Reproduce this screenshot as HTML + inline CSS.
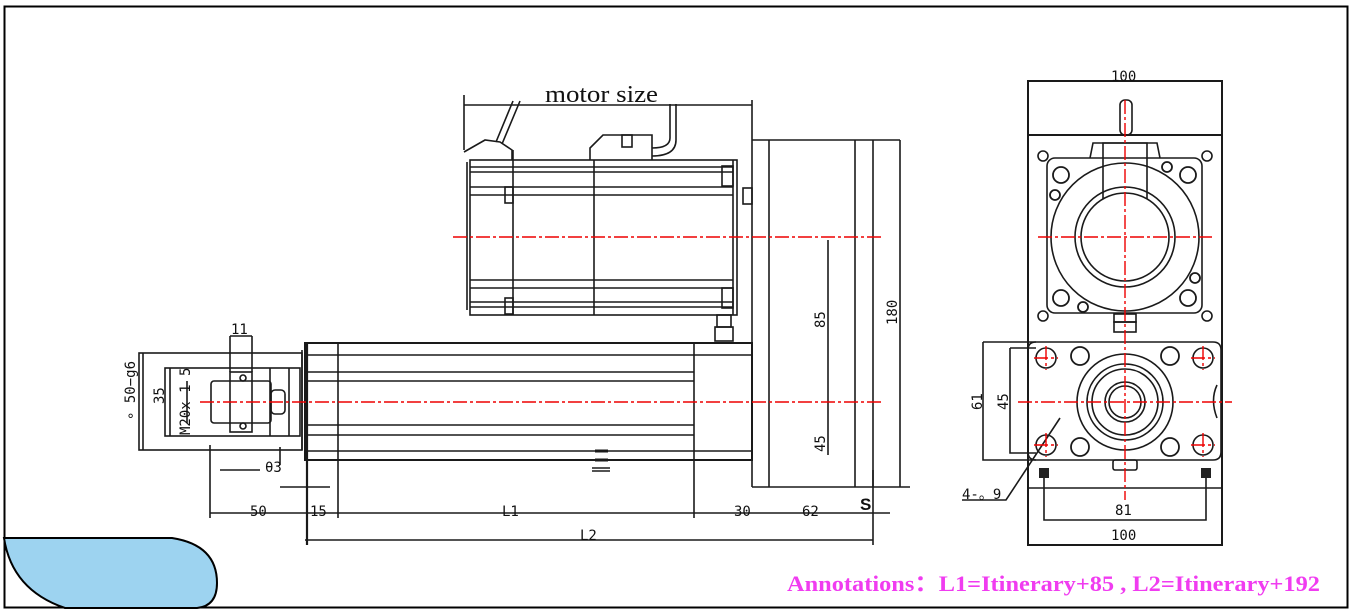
<!DOCTYPE html>
<html><head><meta charset="utf-8"><style>
html,body{margin:0;padding:0;background:#fff}
svg{display:block}
.t{font-family:"DejaVu Sans Mono","Liberation Mono",monospace;font-size:14px;fill:#111}
</style></head><body>
<svg width="1353" height="613" viewBox="0 0 1353 613" xmlns="http://www.w3.org/2000/svg">
<rect x="4.5" y="6.5" width="1343" height="601" fill="#fff" stroke="#000" stroke-width="2"/>
<path d="M4 538 H172 Q217 545 217 583 Q217 606 197 608 H65 Q12 590 4 538 Z" fill="#9dd3f0" stroke="#000" stroke-width="2"/>
<g fill="none" stroke="#1a1a1a" stroke-width="1.6">
<!-- top motor -->
<line x1="464" y1="105" x2="752" y2="105"/>
<line x1="464" y1="95" x2="464" y2="150"/>
<line x1="752" y1="100" x2="752" y2="140"/>
<path d="M464 152 L485 140 L500 142 L512 150 L512 160"/>
<path d="M496 142 L513 101 M502 144 L520 101"/>
<path d="M590 160 V148 L603 135 H652 V160"/>
<rect x="622" y="135" width="10" height="12"/>
<path d="M652 156 Q676 156 676 140 V104 M652 148 Q670 148 670 138 V104"/>
<rect x="470" y="160" width="267" height="155"/>
<line x1="467" y1="162" x2="467" y2="310"/>
<line x1="470" y1="167" x2="733" y2="167"/><line x1="470" y1="172" x2="733" y2="172"/>
<line x1="470" y1="187" x2="733" y2="187"/><line x1="470" y1="195" x2="733" y2="195"/>
<line x1="470" y1="280" x2="733" y2="280"/><line x1="470" y1="288" x2="733" y2="288"/>
<line x1="470" y1="302" x2="733" y2="302"/><line x1="470" y1="307" x2="733" y2="307"/>
<line x1="513" y1="150" x2="513" y2="315"/><line x1="594" y1="160" x2="594" y2="315"/>
<line x1="733" y1="160" x2="733" y2="315"/>
<rect x="505" y="187" width="8" height="16"/><rect x="505" y="298" width="8" height="16"/>
<rect x="722" y="166" width="11" height="20"/><rect x="722" y="288" width="11" height="20"/>
<rect x="743" y="188" width="9" height="16"/>
<rect x="717" y="315" width="14" height="12"/><rect x="715" y="327" width="18" height="14"/>
<!-- plate -->
<line x1="752" y1="140" x2="900" y2="140"/>
<line x1="752" y1="140" x2="752" y2="487"/>
<line x1="769" y1="140" x2="769" y2="487"/>
<line x1="855" y1="140" x2="855" y2="487"/>
<line x1="873" y1="140" x2="873" y2="487"/>
<line x1="900" y1="140" x2="900" y2="487"/>
<line x1="752" y1="487" x2="910" y2="487"/>
<line x1="828" y1="240" x2="828" y2="455"/>
<!-- main body -->
<rect x="305" y="343" width="447" height="117" stroke-width="2"/>
<line x1="305" y1="355" x2="752" y2="355"/>
<line x1="305" y1="372" x2="338" y2="372"/><line x1="305" y1="381" x2="338" y2="381"/>
<line x1="338" y1="372" x2="694" y2="372"/><line x1="338" y1="381" x2="694" y2="381"/>
<line x1="338" y1="425" x2="694" y2="425"/><line x1="338" y1="435" x2="694" y2="435"/>
<line x1="305" y1="425" x2="338" y2="425"/><line x1="305" y1="435" x2="338" y2="435"/>
<line x1="305" y1="451" x2="752" y2="451"/>
<line x1="318" y1="460" x2="752" y2="460"/>
<line x1="338" y1="343" x2="338" y2="518"/>
<line x1="694" y1="343" x2="694" y2="518"/>
<line x1="307" y1="343" x2="307" y2="545" stroke-width="2.2"/>
<line x1="595" y1="451" x2="608" y2="451" stroke-width="3"/><line x1="595" y1="460" x2="608" y2="460" stroke-width="3"/>
<line x1="592" y1="468" x2="610" y2="468"/><line x1="592" y1="471" x2="610" y2="471"/>
<!-- left shaft -->
<rect x="139" y="353" width="163" height="97"/>
<rect x="165" y="368" width="135" height="68"/>
<line x1="270" y1="368" x2="270" y2="436"/><line x1="289" y1="368" x2="289" y2="436"/>
<line x1="302" y1="350" x2="302" y2="450"/>
<rect x="211" y="381" width="60" height="42" rx="3"/>
<rect x="230" y="372" width="22" height="60"/>
<circle cx="243" cy="378" r="3"/><circle cx="243" cy="426" r="3"/>
<rect x="271" y="390" width="14" height="24" rx="4"/>
<line x1="230" y1="336" x2="252" y2="336"/><line x1="230" y1="336" x2="230" y2="372"/><line x1="252" y1="336" x2="252" y2="372"/>
<path d="M210 445 V518 M220 470 H260 M280 447 V465 M280 487 H330 M210 513 H890"/>
<line x1="305" y1="540" x2="873" y2="540"/>
<line x1="873" y1="470" x2="873" y2="545"/>
<line x1="143" y1="353" x2="143" y2="450"/><line x1="170" y1="368" x2="170" y2="436"/>
<line x1="187" y1="381" x2="187" y2="423"/>
<!-- right view -->
<rect x="1028" y="81" width="194" height="464" stroke-width="2"/>
<line x1="1028" y1="135" x2="1222" y2="135" stroke-width="2"/>
<line x1="1028" y1="488" x2="1222" y2="488"/>
<rect x="1120" y="100" width="12" height="35" rx="5"/>
<path d="M1090 158 L1093 143 H1157 L1160 158"/>
<path d="M1103 199 V143 H1147 V199"/>
<rect x="1047" y="158" width="155" height="155" rx="8"/>
<circle cx="1125" cy="237" r="74"/>
<circle cx="1125" cy="237" r="50"/><circle cx="1125" cy="237" r="44"/>
<circle cx="1043" cy="156" r="5"/><circle cx="1207" cy="156" r="5"/>
<circle cx="1043" cy="316" r="5"/><circle cx="1207" cy="316" r="5"/>
<g stroke-width="1.8">
<circle cx="1061" cy="175" r="8"/><circle cx="1188" cy="175" r="8"/>
<circle cx="1061" cy="298" r="8"/><circle cx="1188" cy="298" r="8"/>
<circle cx="1055" cy="195" r="5"/><circle cx="1167" cy="167" r="5"/>
<circle cx="1195" cy="278" r="5"/><circle cx="1083" cy="307" r="5"/>
</g>
<rect x="1114" y="314" width="22" height="8"/><rect x="1114" y="322" width="22" height="10"/>
<path d="M1036 342 H1213 Q1221 342 1221 350 V452 Q1221 460 1213 460 H1036 Q1028 460 1028 452 V350 Q1028 342 1036 342 Z"/>
<circle cx="1125" cy="402" r="48"/><circle cx="1125" cy="402" r="38"/><circle cx="1125" cy="402" r="33"/>
<circle cx="1125" cy="402" r="20"/><circle cx="1125" cy="402" r="16"/>
<circle cx="1046" cy="358" r="10"/><circle cx="1203" cy="358" r="10"/>
<circle cx="1046" cy="445" r="10"/><circle cx="1203" cy="445" r="10"/>
<g stroke-width="1.8">
<circle cx="1080" cy="356" r="9"/><circle cx="1170" cy="356" r="9"/>
<circle cx="1080" cy="447" r="9"/><circle cx="1170" cy="447" r="9"/>
</g>
<rect x="1113" y="460" width="24" height="10" rx="2"/>
<path d="M1217 385 Q1210 400 1217 418"/>
<path d="M983 342 H1036 M983 342 V460 H1036 M1010 348 H1036 M1010 348 V453 H1036 M1044 470 V520 H1206 V470"/>
<path d="M962 500 H1006 L1060 418"/>
</g>
<rect x="1039" y="468" width="10" height="10" fill="#222"/><rect x="1201" y="468" width="10" height="10" fill="#222"/>
<!-- red center lines -->
<g stroke="#e00" stroke-width="1.4" stroke-dasharray="14,3,3,3" fill="none">
<line x1="453" y1="237" x2="882" y2="237"/>
<line x1="200" y1="402" x2="882" y2="402"/>
<line x1="1038" y1="237" x2="1212" y2="237"/>
<line x1="1125" y1="100" x2="1125" y2="500"/>
<line x1="1018" y1="402" x2="1232" y2="402"/>
<line x1="1034" y1="358" x2="1058" y2="358"/><line x1="1046" y1="346" x2="1046" y2="370"/>
<line x1="1191" y1="358" x2="1215" y2="358"/><line x1="1203" y1="346" x2="1203" y2="370"/>
<line x1="1034" y1="445" x2="1058" y2="445"/><line x1="1046" y1="433" x2="1046" y2="457"/>
<line x1="1191" y1="445" x2="1215" y2="445"/><line x1="1203" y1="433" x2="1203" y2="457"/>
</g>
<!-- text -->
<text x="545" y="102" font-family="Liberation Serif,serif" font-size="24" fill="#111" textLength="113" lengthAdjust="spacingAndGlyphs">motor size</text>
<text x="231" y="334" class="t" font-size="15">11</text>
<text class="t" transform="translate(135,420) rotate(-90)">∘ 50−g6</text>
<text class="t" transform="translate(164,404) rotate(-90)">35</text>
<text class="t" transform="translate(190,435) rotate(-90)">M20x 1 5</text>
<text x="265" y="472" class="t">θ3</text>
<text x="250" y="516" class="t">50</text>
<text x="310" y="516" class="t">15</text>
<text x="502" y="516" class="t">L1</text>
<text x="734" y="516" class="t">30</text>
<text x="802" y="516" class="t">62</text>
<text x="860" y="510" font-family="Liberation Sans,sans-serif" font-weight="bold" font-size="17" fill="#111">S</text>
<text x="580" y="540" class="t">L2</text>
<text class="t" transform="translate(825,328) rotate(-90)">85</text>
<text class="t" transform="translate(825,452) rotate(-90)">45</text>
<text class="t" transform="translate(897,325) rotate(-90)" font-size="12">180</text>
<text x="1111" y="81" class="t">100</text>
<text x="1111" y="540" class="t">100</text>
<text x="1115" y="515" class="t">81</text>
<text class="t" transform="translate(982,410) rotate(-90)">61</text>
<text class="t" transform="translate(1008,410) rotate(-90)">45</text>
<text x="962" y="499" class="t">4-。9</text>
<text x="787" y="591" font-family="Liberation Serif,serif" font-weight="bold" font-size="22" fill="#f03cf0" textLength="533" lengthAdjust="spacingAndGlyphs">Annotations：L1=Itinerary+85 , L2=Itinerary+192</text>
</svg>
</body></html>
